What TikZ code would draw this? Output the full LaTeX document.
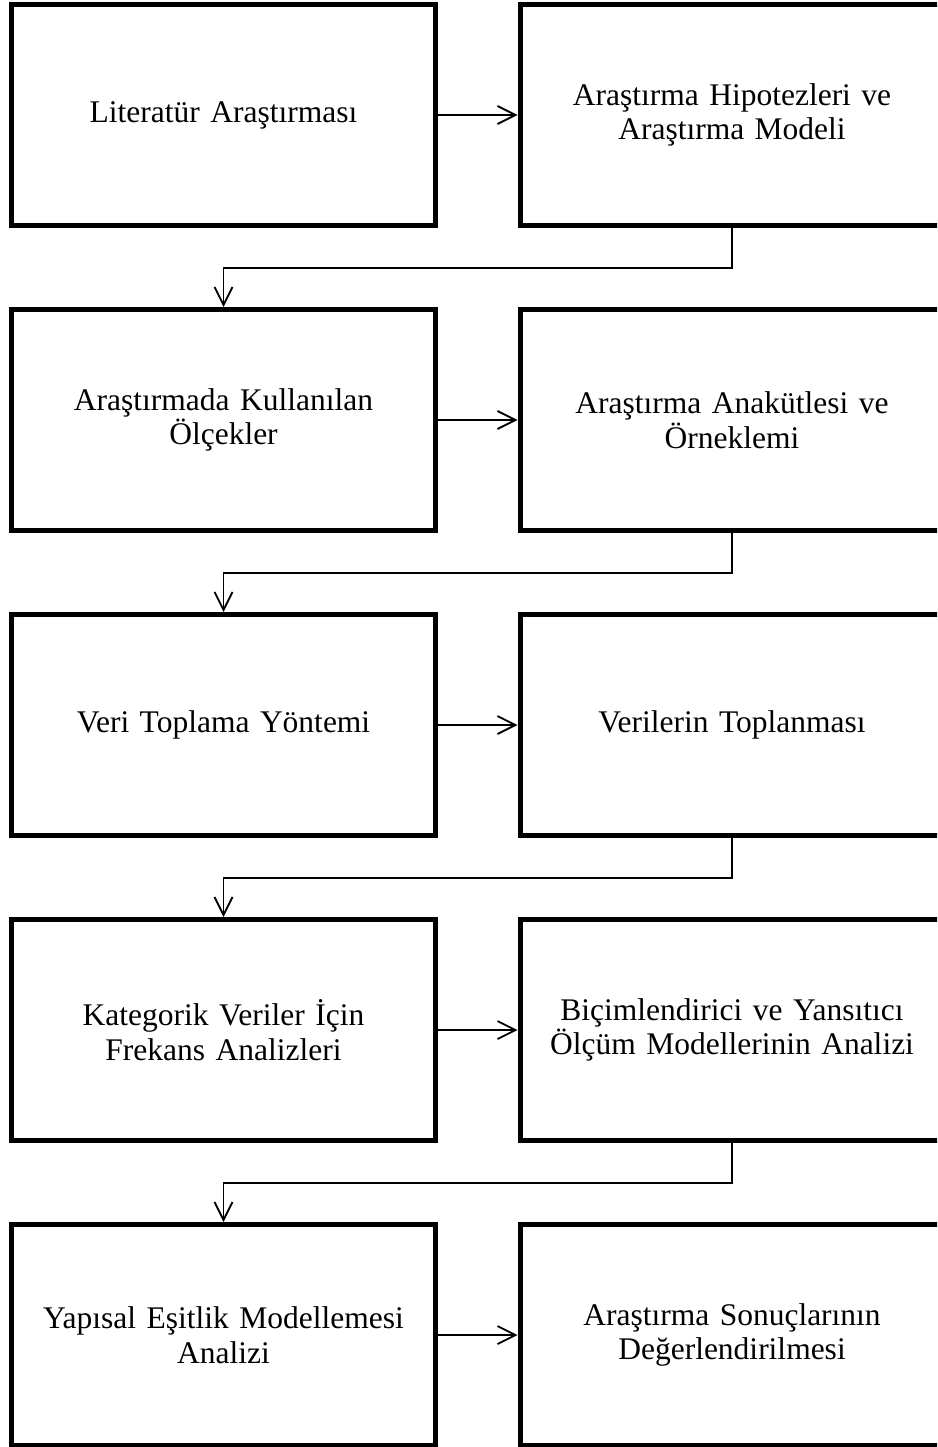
\documentclass[tikz,border=0pt]{standalone}
\usepackage{fontspec}
\setmainfont{Liberation Serif}
\usetikzlibrary{arrows.meta}
\begin{document}
\begin{tikzpicture}[x=1pt,y=-1pt,
  box/.style={draw, line width=5pt, minimum width=424pt, minimum height=221pt, text width=410pt, align=center, font=\fontsize{31.5}{34.5}\selectfont},
  link/.style={line width=1.8pt, -{Straight Barb[length=18pt,width=18pt,line width=1.8pt]}}]
\useasboundingbox (0,0) rectangle (937,1447);
\clip (0,0) rectangle (937,1447);
\node[box] (a) at (223.5,115) {Literatür Araştırması};
\node[box] (b) at (732,115) {Araştırma Hipotezleri ve\\Araştırma Modeli};
\node[box] (c) at (223.5,420) {Araştırmada Kullanılan\\Ölçekler};
\node[box] (d) at (732,420) {Araştırma Anakütlesi ve\\Örneklemi};
\node[box] (e) at (223.5,725) {Veri Toplama Yöntemi};
\node[box] (f) at (732,725) {Verilerin Toplanması};
\node[box] (g) at (223.5,1030) {Kategorik Veriler İçin\\Frekans Analizleri};
\node[box] (h) at (732,1030) {Biçimlendirici ve Yansıtıcı\\Ölçüm Modellerinin Analizi};
\node[box] (i) at (223.5,1335) {Yapısal Eşitlik Modellemesi\\Analizi};
\node[box] (j) at (732,1335) {Araştırma Sonuçlarının\\Değerlendirilmesi};
\draw[link] (a) -- (b);
\draw[link] (b.south) -- ++(0,40) -| (c.north);
\draw[link] (c) -- (d);
\draw[link] (d.south) -- ++(0,40) -| (e.north);
\draw[link] (e) -- (f);
\draw[link] (f.south) -- ++(0,40) -| (g.north);
\draw[link] (g) -- (h);
\draw[link] (h.south) -- ++(0,40) -| (i.north);
\draw[link] (i) -- (j);
\end{tikzpicture}
\end{document}
